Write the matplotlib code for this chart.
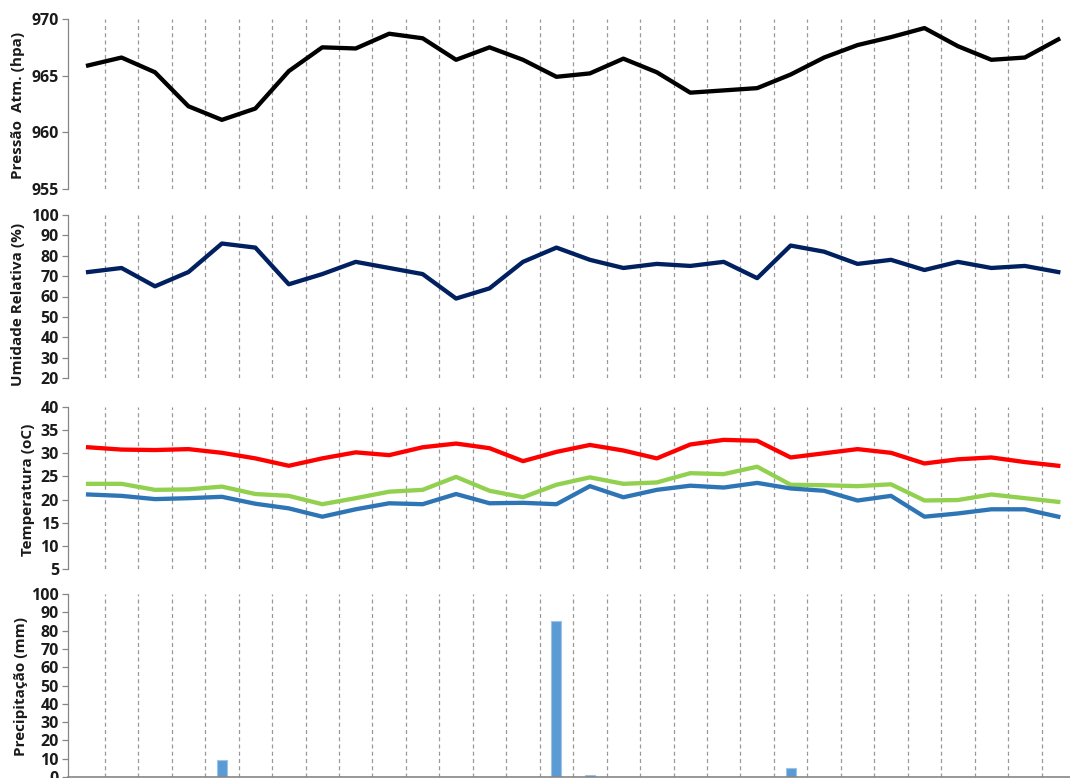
import matplotlib
matplotlib.use("Agg")
import matplotlib.pyplot as plt
import numpy as np

plt.rcParams['font.family'] = ['Open Sans', 'DejaVu Sans']
plt.rcParams['font.weight'] = 'bold'

# Daily observations, 30 days
days = list(range(1, 31))

pressao = [965.9, 966.6, 965.3, 962.3, 961.1, 962.1, 965.4, 967.5, 967.4, 968.7,
           968.3, 966.4, 967.5, 966.4, 964.9, 965.2, 966.5, 965.3, 963.5, 963.7,
           963.9, 965.1, 966.6, 967.7, 968.4, 969.2, 967.6, 966.4, 966.6, 968.2]

umidade = [72, 74, 65, 72, 86, 84, 66, 71, 77, 74,
           71, 59, 64, 77, 84, 78, 74, 76, 75, 77,
           69, 85, 82, 76, 78, 73, 77, 74, 75, 72]

temp_max = [31.3, 30.8, 30.7, 30.9, 30.1, 28.9, 27.3, 28.9, 30.2, 29.6,
            31.3, 32.1, 31.1, 28.3, 30.3, 31.8, 30.6, 28.9, 31.9, 32.9,
            32.7, 29.1, 30.0, 30.9, 30.1, 27.8, 28.7, 29.1, 28.1, 27.3]

temp_med = [23.4, 23.4, 22.1, 22.2, 22.8, 21.2, 20.8, 19.0, 20.3, 21.7,
            22.1, 24.9, 21.9, 20.5, 23.2, 24.8, 23.4, 23.7, 25.7, 25.5,
            27.1, 23.2, 23.1, 22.9, 23.3, 19.8, 19.9, 21.1, 20.3, 19.5]

temp_min = [21.1, 20.8, 20.1, 20.3, 20.6, 19.1, 18.1, 16.3, 17.9, 19.2,
            19.0, 21.2, 19.2, 19.3, 19.0, 22.9, 20.5, 22.1, 23.0, 22.6,
            23.6, 22.4, 21.9, 19.8, 20.8, 16.3, 17.0, 17.9, 17.9, 16.3]

precip = [0, 0, 0, 0, 9.2, 0, 0, 0, 0, 0,
          0, 0, 0, 0, 85.2, 1.0, 0.2, 0, 0.15, 0,
          0, 4.8, 0.15, 0, 0, 0, 0, 0, 0, 0]

W, H = 1070, 778
fig = plt.figure(figsize=(W / 100, H / 100), dpi=100)

left = 68 / W
width = 1007 / W
grey = '#868686'
tick_color = '#1a1a1a'


def panel(top_px, bottom_px):
    return fig.add_axes([left, 1 - bottom_px / H, width, (bottom_px - top_px) / H])


def style(ax, ylim, step, bottom_line=False):
    x = np.arange(len(days))
    ax.set_xlim(-0.6, len(days) - 0.5)
    ax.set_ylim(*ylim)
    ax.set_yticks(np.arange(ylim[0], ylim[1] + step / 2, step))
    ax.set_xticks([])
    for k in range(len(days) - 1):
        ax.axvline(k + 0.5, color='#999999', lw=0.9, ls=(0, (3.2, 2.6)), zorder=0)
    for s in ['top', 'right']:
        ax.spines[s].set_visible(False)
    ax.spines['left'].set_color(grey)
    ax.spines['left'].set_linewidth(0.9)
    if bottom_line:
        ax.spines['bottom'].set_color(grey)
        ax.spines['bottom'].set_linewidth(1.2)
    else:
        ax.spines['bottom'].set_visible(False)
    ax.tick_params(axis='y', direction='out', length=4, width=0.9, color=grey,
                   labelsize=11.5, labelcolor=tick_color, pad=2.5)
    for lab in ax.get_yticklabels():
        lab.set_fontweight('bold')
    return x


# Atmospheric pressure
ax1 = panel(19, 189)
x = style(ax1, (955, 970), 5)
ax1.plot(x, pressao, color='black', lw=3.1, solid_joinstyle='round')

# Relative humidity
ax2 = panel(215, 378)
x = style(ax2, (20, 100), 10)
ax2.plot(x, umidade, color='#002060', lw=3.1, solid_joinstyle='round')

# Temperatures
ax3 = panel(407, 569)
x = style(ax3, (5, 40), 5)
ax3.plot(x, temp_max, color='#ff0000', lw=3.1, solid_joinstyle='round')
ax3.plot(x, temp_med, color='#92d050', lw=3.1, solid_joinstyle='round')
ax3.plot(x, temp_min, color='#2e75b6', lw=3.1, solid_joinstyle='round')

# Precipitation
ax4 = panel(594, 777)
x = style(ax4, (0, 100), 10, bottom_line=True)
ax4.bar(x, precip, width=0.3, color='#5b9bd5', edgecolor='#9dc3e6',
        linewidth=0.8, zorder=2)
ax4.spines['bottom'].set_zorder(3)

label_kw = dict(rotation=90, ha='center', va='center', fontsize=11,
                fontweight='bold', color=tick_color)
fig.text(18 / W, 1 - 105 / H, 'Pressão  Atm. (hpa)', **label_kw)
fig.text(18 / W, 1 - 304 / H, 'Umidade Relativa (%)', **label_kw)
fig.text(28 / W, 1 - 490 / H, 'Temperatura (oC)', **label_kw)
fig.text(21 / W, 1 - 686 / H, 'Precipitação (mm)', **label_kw)

fig.savefig('out.png', dpi=100)
